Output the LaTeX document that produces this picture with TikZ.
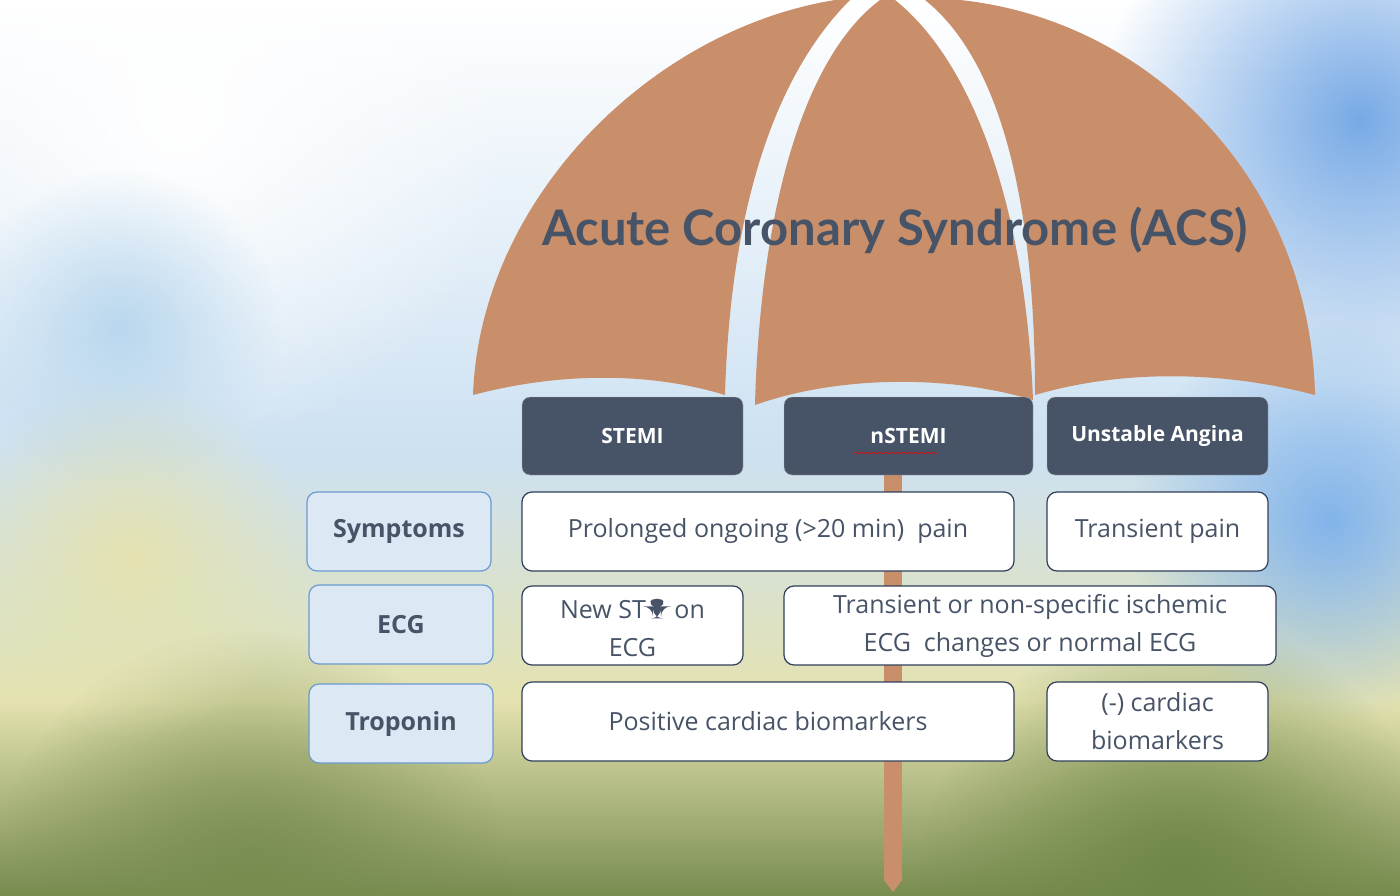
\documentclass[tikz,border=0pt]{standalone}
\usepackage{fontspec}
\setmainfont{Open Sans}
\newfontfamily\titlefont{Lato}
\usetikzlibrary{fadings,decorations.pathmorphing}
\definecolor{dark}{HTML}{475366}
\definecolor{tan}{HTML}{C98E6A}
\definecolor{lbfill}{HTML}{DDE8F5}
\definecolor{lbborder}{HTML}{6A9BD0}
\definecolor{wborder}{HTML}{2F3F5A}
\definecolor{skyA}{RGB}{120,170,230}
\definecolor{skyB}{RGB}{130,180,235}
\definecolor{skyC}{RGB}{185,215,238}
\definecolor{skyM}{RGB}{205,225,242}
\definecolor{grnA}{RGB}{110,135,70}
\definecolor{grnB}{RGB}{120,140,80}
\definecolor{yel}{RGB}{228,226,176}
\tikzfading[name=fuzzy, inner color=transparent!0, outer color=transparent!100]
\begin{document}
\begin{tikzpicture}[x=1pt,y=-1pt,
  head/.style={draw=gray!60, fill=dark, rounded corners=8pt, text=white, font=\bfseries\fontsize{21}{24}\selectfont, align=center, inner sep=0pt},
  lab/.style={draw=lbborder, line width=1.2pt, fill=lbfill, rounded corners=10pt, text=dark, font=\bfseries\fontsize{25}{30}\selectfont, align=center, inner sep=0pt},
  cell/.style={draw=wborder, line width=1.2pt, fill=white, rounded corners=10pt, text=dark, font=\fontsize{25}{38}\selectfont, align=center, inner sep=0pt},
  panel/.style={fill=tan}]
\useasboundingbox (0,0) rectangle (1400,896);
% background
\shade[top color=white, bottom color=skyM] (0,0) rectangle (1400,450);
\shade[top color=skyM, bottom color=yel] (0,450) rectangle (1400,700);
\shade[top color=yel, bottom color=grnB] (0,700) rectangle (1400,896);
\fill[white, path fading=fuzzy] (180,120) circle (330);
\fill[skyA, path fading=fuzzy] (1360,120) circle (260);
\fill[skyB, path fading=fuzzy] (1330,520) circle (200);
\fill[skyC, path fading=fuzzy] (120,330) circle (160);
\fill[grnA, path fading=fuzzy] (1180,880) circle (260);
\fill[grnB, path fading=fuzzy] (250,890) circle (260);
\fill[yel, path fading=fuzzy] (130,560) circle (180);
% umbrella
\fill[panel] (473,395) .. controls (480,200) and (650,30) .. (835,0) -- (850,0)
  .. controls (770,80) and (730,220) .. (725,395) .. controls (650,372) and (560,372) .. cycle;
\fill[panel] (755,405) .. controls (760,220) and (800,60) .. (880,0) -- (895,0)
  .. controls (970,60) and (1025,200) .. (1033,400) .. controls (950,375) and (840,375) .. cycle;
\fill[panel] (1035,395) .. controls (1035,200) and (1000,60) .. (925,0) -- (960,0)
  .. controls (1150,20) and (1310,180) .. (1315,395) .. controls (1220,370) and (1120,370) .. cycle;
\fill[panel] (884,475) rectangle (902,880);
\fill[panel] (884,880) -- (902,880) -- (893,892) -- cycle;
\node[text=dark, font=\titlefont\bfseries\fontsize{49}{58}\selectfont] (title) at (895,230) {Acute Coronary Syndrome (ACS)};
% headers
\node[head, minimum width=221pt, minimum height=78pt] (h1) at (632.5,436) {STEMI};
\node[head, minimum width=249pt, minimum height=78pt] (h2) at (908.5,436) {nSTEMI};
\node[head, minimum width=221pt, minimum height=78pt] (h3) at (1157.5,436) {Unstable Angina};
\draw[red, decorate, decoration={snake, amplitude=0.8pt, segment length=3pt}] (853,453) -- (938,453);
% row labels
\node[lab, minimum width=184pt, minimum height=79pt] (l1) at (399,531.5) {Symptoms};
\node[lab, minimum width=184pt, minimum height=79pt] (l2) at (401,624.5) {ECG};
\node[lab, minimum width=184pt, minimum height=79pt] (l3) at (401,723.5) {Troponin};
% cells
\node[cell, minimum width=492pt, minimum height=79pt] (c11) at (768,531.5) {Prolonged ongoing (>20 min)\ \ pain};
\node[cell, minimum width=221pt, minimum height=79pt] (c12) at (1157.5,531.5) {Transient pain};
\node[cell, minimum width=221pt, minimum height=79pt] (c21) at (632.5,625.5) {New ST\tikz[baseline=0pt]\fill[dark] (-4,0)--(4,0)--(4,-12)--(11,-12)--(0,-24)--(-11,-12)--(-4,-12)--cycle;\ on\\ECG};
\node[cell, minimum width=492pt, minimum height=79pt] (c22) at (1030,625.5) {Transient or non-specific ischemic\\ECG\ \ changes or normal ECG};
\node[cell, minimum width=492pt, minimum height=79pt] (c31) at (768,721.5) {Positive cardiac biomarkers};
\node[cell, minimum width=221pt, minimum height=79pt] (c32) at (1157.5,721.5) {(-) cardiac\\biomarkers};
\end{tikzpicture}
\end{document}
